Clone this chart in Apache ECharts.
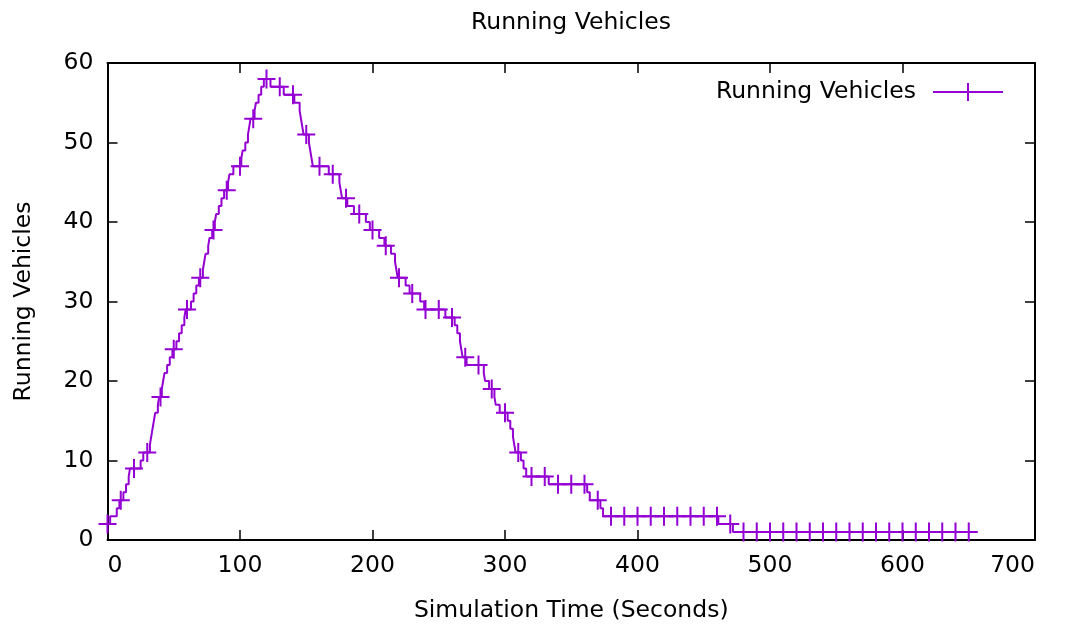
<!DOCTYPE html>
<html>
<head>
<meta charset="utf-8">
<script src="https://cdn.jsdelivr.net/npm/echarts@6/dist/echarts.min.js"></script>
<style>
  html, body { margin: 0; padding: 0; background: #ffffff; }
  #chart { width: 1070px; height: 631px; }
</style>
</head>
<body>
<div id="chart"></div>
<script>
// Simulation time (s) at which the number of running vehicles changes
const changeTimes = [
  0, 2, 7, 9, 12, 14, 16, 17, 25, 27, 32, 33, 34, 35, 36, 38, 39, 41, 42, 43,
  45, 47, 49, 52, 54, 56, 58, 59, 63, 65, 67, 69, 72, 73, 74, 76, 77, 79, 81, 82,
  84, 86, 88, 91, 92, 95, 101, 102, 104, 106, 107, 108, 111, 112, 114, 116, 118, 123, 133, 141,
  145, 146, 147, 148, 152, 153, 154, 155, 167, 175, 176, 177, 181, 186, 195, 198, 205, 209, 214, 217,
  218, 219, 225, 228, 236, 239, 255, 262, 264, 266, 267, 268, 271, 284, 285, 288, 292, 293, 296, 302,
  304, 306, 307, 308, 312, 314, 316, 333, 362, 364, 372, 374, 461, 472, 655
];
// Running vehicle count from each change time onward
const vehicleCounts = [
  2, 3, 4, 5, 6, 7, 8, 9, 10, 11, 12, 13, 14, 15, 16, 17, 18, 19, 20, 21,
  22, 23, 24, 25, 26, 27, 28, 29, 30, 31, 32, 33, 34, 35, 36, 37, 38, 39, 40, 41,
  42, 43, 44, 45, 46, 47, 48, 49, 50, 51, 52, 53, 54, 55, 56, 57, 58, 57, 56, 55,
  54, 53, 52, 51, 50, 49, 48, 47, 46, 45, 44, 43, 42, 41, 40, 39, 38, 37, 36, 35,
  34, 33, 32, 31, 30, 29, 28, 27, 26, 25, 24, 23, 22, 21, 20, 19, 18, 17, 16, 15,
  14, 13, 12, 11, 10, 9, 8, 7, 6, 5, 4, 3, 2, 1, 1
];
// Point markers are placed every markerEvery seconds along the curve
const markerEvery = 10;
const xTicks = { min: 0, max: 700, step: 100 };
const yTicks = { min: 0, max: 60, step: 10 };

const SERIES_NAME = 'Running Vehicles';
const PURPLE = '#9400d3';
const FONT = 'DejaVu Sans';
const FONT_SIZE = 23.5;

const lineData = changeTimes.map((t, i) => [t, vehicleCounts[i]]);

function countAt(t) {
  let v = vehicleCounts[0];
  for (let i = 0; i < changeTimes.length; i++) {
    if (changeTimes[i] <= t) v = vehicleCounts[i]; else break;
  }
  return v;
}
const lastTime = changeTimes[changeTimes.length - 1];
const markerData = [];
for (let t = changeTimes[0]; t <= lastTime; t += markerEvery) {
  markerData.push([t, countAt(t)]);
}

const plusPath = 'path://M0,8.5 L18,8.5 L18,10.5 L0,10.5 Z M8,0 L10,0 L10,19 L8,19 Z';
const legendIcon = 'path://M0,8 L70,8 L70,10 L0,10 Z M34,0 L36,0 L36,18 L34,18 Z';

function valueAxis(range, extra) {
  return Object.assign({
    type: 'value',
    min: range.min,
    max: range.max,
    interval: range.step,
    axisLine: { show: true, onZero: false, lineStyle: { color: '#000', width: 2 } },
    axisTick: { show: true, inside: true, length: 10, lineStyle: { color: '#000', width: 1.5 } },
    splitLine: { show: false },
    axisLabel: { color: '#000', fontFamily: FONT, fontSize: FONT_SIZE, margin: 14 },
    nameTextStyle: { color: '#000', fontFamily: FONT, fontSize: FONT_SIZE }
  }, extra);
}

const chart = echarts.init(document.getElementById('chart'), null, { renderer: 'canvas' });
chart.setOption({
  animation: false,
  backgroundColor: '#ffffff',
  title: {
    text: 'Running Vehicles',
    left: 566,
    top: 6,
    textAlign: 'center',
    textStyle: { color: '#000', fontFamily: FONT, fontSize: FONT_SIZE, fontWeight: 'normal' }
  },
  legend: {
    data: [{ name: SERIES_NAME, icon: legendIcon }],
    right: 62,
    top: 75,
    align: 'right',
    itemWidth: 70,
    itemHeight: 18,
    selectedMode: false,
    textStyle: { color: '#000', fontFamily: FONT, fontSize: FONT_SIZE, padding: [0, 12, 0, 0] }
  },
  grid: { left: 107.5, right: 35, top: 63, bottom: 91, containLabel: false },
  xAxis: [
    valueAxis(xTicks, {
      position: 'bottom',
      name: 'Simulation Time (Seconds)',
      nameLocation: 'middle',
      nameGap: 59,
      axisLabel: { color: '#000', fontFamily: FONT, fontSize: FONT_SIZE, margin: 14, alignMinLabel: 'left', alignMaxLabel: 'right' }
    }),
    valueAxis(xTicks, { position: 'top', axisLabel: { show: false } })
  ],
  yAxis: [
    valueAxis(yTicks, { position: 'left', name: 'Running Vehicles', nameLocation: 'middle', nameGap: 72 }),
    valueAxis(yTicks, { position: 'right', axisLabel: { show: false } })
  ],
  series: [
    {
      name: SERIES_NAME,
      type: 'line',
      xAxisIndex: 0,
      yAxisIndex: 0,
      step: 'end',
      showSymbol: false,
      symbol: 'none',
      data: lineData,
      itemStyle: { color: PURPLE },
      lineStyle: { color: PURPLE, width: 2 },
      z: 3
    },
    {
      name: SERIES_NAME,
      type: 'scatter',
      xAxisIndex: 0,
      yAxisIndex: 0,
      symbol: plusPath,
      symbolSize: [18, 19],
      data: markerData,
      itemStyle: { color: PURPLE, opacity: 1 },
      z: 4
    }
  ]
});
</script>
</body>
</html>
